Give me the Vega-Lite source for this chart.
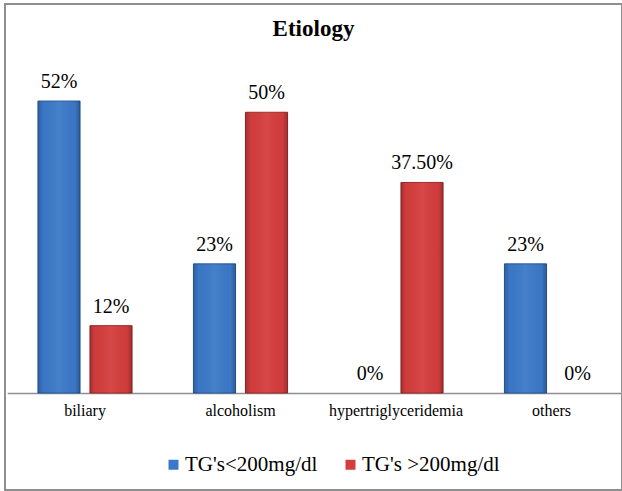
{
  "$schema": "https://vega.github.io/schema/vega-lite/v6.json",
  "width": 617,
  "height": 486,
  "autosize": {"type": "none"},
  "padding": {"left": 5, "top": 4, "right": 0, "bottom": 1},
  "background": "white",
  "config": {
    "view": {"stroke": "#8f8f8f", "strokeWidth": 2},
    "font": "Times New Roman, Liberation Serif, serif",
    "text": {"font": "Times New Roman, Liberation Serif, serif"},
    "axis": {"labelFont": "Times New Roman, Liberation Serif, serif"},
    "legend": {"labelFont": "Times New Roman, Liberation Serif, serif"}
  },
  "title": {
    "text": "Etiology",
    "font": "Times New Roman, Liberation Serif, serif",
    "fontSize": 23,
    "fontWeight": "bold",
    "color": "black",
    "anchor": "middle",
    "offset": -37
  },
  "data": {
    "values": [
      {"cause": "biliary", "group": "TG's<200mg/dl", "value": 52, "label": "52%"},
      {"cause": "biliary", "group": "TG's >200mg/dl", "value": 12, "label": "12%"},
      {"cause": "alcoholism", "group": "TG's<200mg/dl", "value": 23, "label": "23%"},
      {"cause": "alcoholism", "group": "TG's >200mg/dl", "value": 50, "label": "50%"},
      {"cause": "hypertriglyceridemia", "group": "TG's<200mg/dl", "value": 0, "label": "0%"},
      {"cause": "hypertriglyceridemia", "group": "TG's >200mg/dl", "value": 37.5, "label": "37.50%"},
      {"cause": "others", "group": "TG's<200mg/dl", "value": 23, "label": "23%"},
      {"cause": "others", "group": "TG's >200mg/dl", "value": 0, "label": "0%"}
    ]
  },
  "encoding": {
    "x": {
      "field": "cause",
      "type": "nominal",
      "sort": ["biliary", "alcoholism", "hypertriglyceridemia", "others"],
      "scale": {"range": [2.25, 624.25], "paddingInner": 0, "paddingOuter": 0},
      "axis": {
        "title": null,
        "orient": "bottom",
        "offset": -97,
        "labelAngle": 0,
        "labelFont": "Times New Roman, Liberation Serif, serif",
        "labelFontSize": 16,
        "labelColor": "black",
        "labelPadding": 9,
        "ticks": false,
        "domainColor": "#8f8f8f",
        "domainWidth": 1.5,
        "grid": false
      }
    },
    "xOffset": {
      "field": "group",
      "type": "nominal",
      "sort": ["TG's<200mg/dl", "TG's >200mg/dl"],
      "scale": {"paddingInner": 0.19, "paddingOuter": 0.59}
    },
    "y": {
      "field": "value",
      "type": "quantitative",
      "scale": {"domain": [-17.27, 69.28], "nice": false, "zero": false},
      "axis": null
    }
  },
  "layer": [
    {
      "transform": [{"filter": "datum.value > 0"}],
      "mark": {"type": "bar", "strokeWidth": 1},
      "encoding": {
        "color": {
          "field": "group",
          "type": "nominal",
          "sort": ["TG's<200mg/dl", "TG's >200mg/dl"],
          "scale": {"range": ["#3b79c8", "#d43d3d"]},
          "legend": {
            "title": null,
            "orient": "none",
            "legendX": 158,
            "legendY": 450,
            "direction": "horizontal",
            "symbolType": "square",
            "symbolSize": 100,
            "symbolStrokeWidth": 0,
            "labelFont": "Times New Roman, Liberation Serif, serif",
            "labelFontSize": 21,
            "labelColor": "black",
            "labelOffset": 1,
            "columnPadding": 22,
            "labelLimit": 300
          }
        },
        "stroke": {
          "field": "group",
          "type": "nominal",
          "sort": ["TG's<200mg/dl", "TG's >200mg/dl"],
          "scale": {"range": ["#2b5a99", "#9c2b2b"]},
          "legend": null
        }
      }
    },
    {
      "transform": [{"filter": "datum.value > 0"}],
      "mark": {
        "type": "bar",
        "fill": {
          "gradient": "linear",
          "x1": 0, "y1": 0, "x2": 1, "y2": 0,
          "stops": [
            {"offset": 0, "color": "rgba(0,0,0,0.22)"},
            {"offset": 0.12, "color": "rgba(0,0,0,0.02)"},
            {"offset": 0.5, "color": "rgba(255,255,255,0.06)"},
            {"offset": 0.88, "color": "rgba(0,0,0,0.02)"},
            {"offset": 1, "color": "rgba(0,0,0,0.25)"}
          ]
        }
      },
      "encoding": {}
    },
    {
      "mark": {"type": "text", "baseline": "alphabetic", "dy": -13, "fontSize": 20, "font": "Times New Roman, Liberation Serif, serif", "color": "black"},
      "encoding": {
        "text": {"field": "label", "type": "nominal"}
      }
    }
  ]
}
